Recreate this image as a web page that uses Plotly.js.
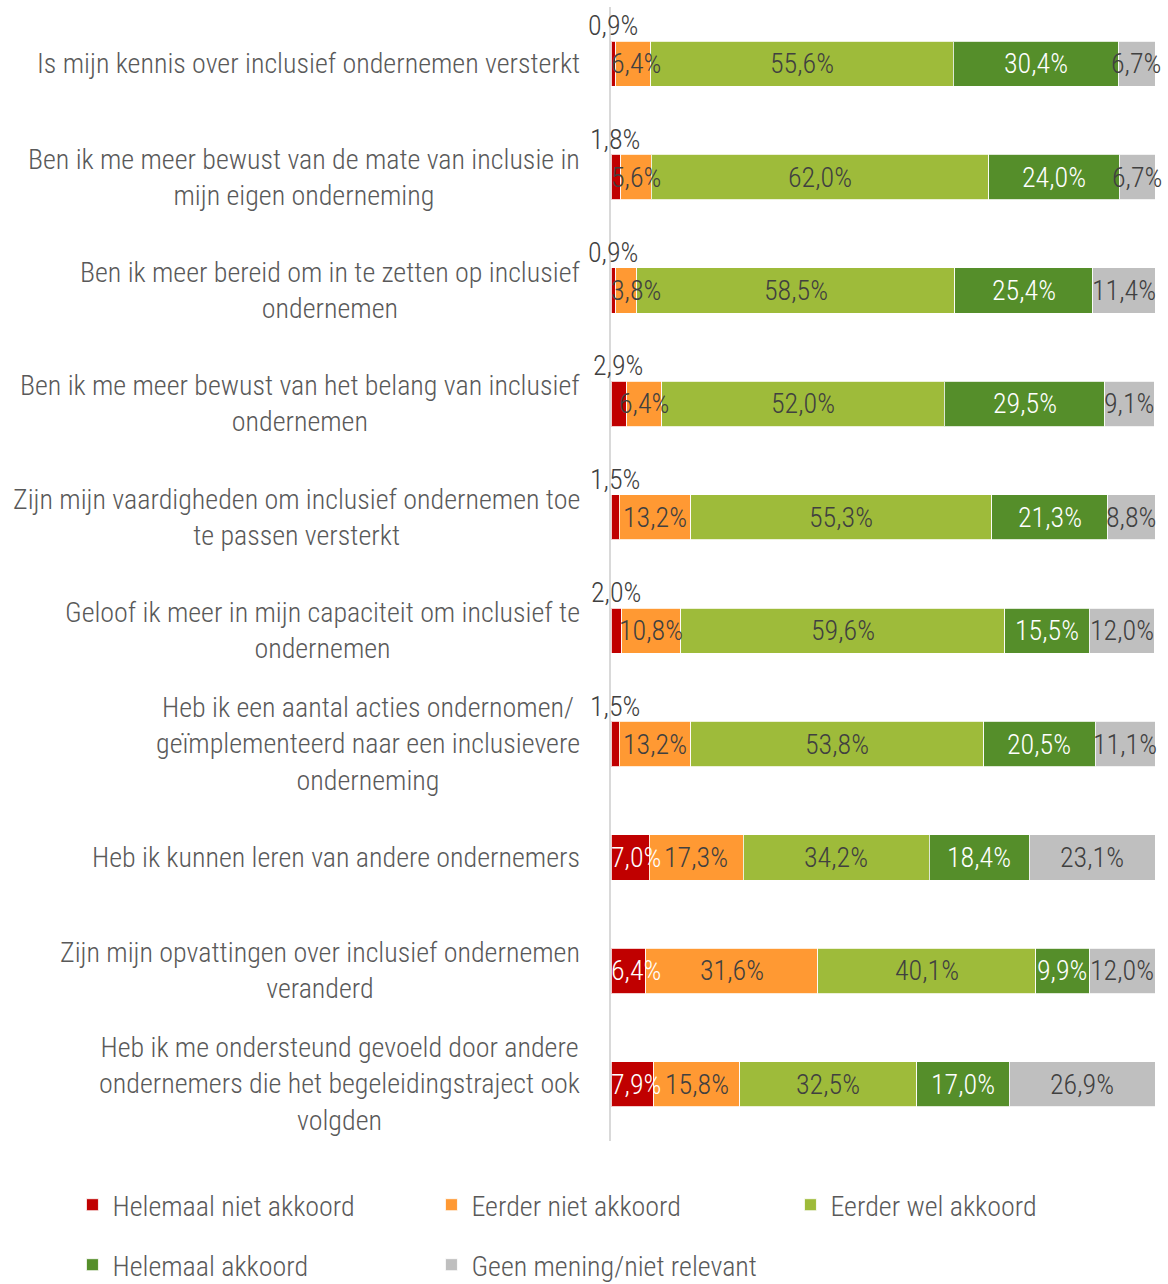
<!DOCTYPE html>
<html>
<head>
<meta charset="utf-8">
<script src="https://cdn.plot.ly/plotly-3.0.1.min.js"></script>
<style>html,body{margin:0;padding:0;background:#fff;}#chart{width:1168px;height:1284px;}</style>
</head>
<body>
<div id="chart"></div>
<script>
const categories = [
  "Is mijn kennis over inclusief ondernemen versterkt",
  "Ben ik me meer bewust van de mate van inclusie in<br>mijn eigen onderneming",
  "Ben ik meer bereid om in te zetten op inclusief<br>ondernemen",
  "Ben ik me meer bewust van het belang van inclusief<br>ondernemen",
  "Zijn mijn vaardigheden om inclusief ondernemen toe<br>te passen versterkt",
  "Geloof ik meer in mijn capaciteit om inclusief te<br>ondernemen",
  "Heb ik een aantal acties ondernomen/<br>geïmplementeerd naar een inclusievere<br>onderneming",
  "Heb ik kunnen leren van andere ondernemers",
  "Zijn mijn opvattingen over inclusief ondernemen<br>veranderd",
  "Heb ik me ondersteund gevoeld door andere<br>ondernemers die het begeleidingstraject ook<br>volgden"
];
const seriesNames = ["Helemaal niet akkoord","Eerder niet akkoord","Eerder wel akkoord","Helemaal akkoord","Geen mening/niet relevant"];
const helemaalNiet = [0.9, 1.8, 0.9, 2.9, 1.5, 2.0, 1.5, 7.0, 6.4, 7.9];
const eerderNiet   = [6.4, 5.6, 3.8, 6.4, 13.2, 10.8, 13.2, 17.3, 31.6, 15.8];
const eerderWel    = [55.6, 62.0, 58.5, 52.0, 55.3, 59.6, 53.8, 34.2, 40.1, 32.5];
const helemaal     = [30.4, 24.0, 25.4, 29.5, 21.3, 15.5, 20.5, 18.4, 9.9, 17.0];
const geenMening   = [6.7, 6.7, 11.4, 9.1, 8.8, 12.0, 11.1, 23.1, 12.0, 26.9];

const colors = ["#C00000","#FF9933","#9EBB3A","#558E2A","#BFBFBF"];
const labelColors = ["#FFFFFF","#404040","#404040","#FFFFFF","#404040"];
const allSeries = [helemaalNiet, eerderNiet, eerderWel, helemaal, geenMening];

const FONT = "'Roboto Condensed', 'DejaVu Sans', sans-serif";
const FS = 28;
const mkFont = (color) => ({family: FONT, size: FS, color: color, weight: 300});

const traces = allSeries.map((vals, i) => ({
  type: 'bar',
  orientation: 'h',
  name: seriesNames[i],
  x: vals,
  y: categories,
  marker: {color: colors[i], line: {color: 'rgba(255,255,255,0.8)', width: 1}},
  hoverinfo: 'none',
  legend: i < 3 ? 'legend' : 'legend2'
}));

const fmt = v => v.toFixed(1).replace('.', ',') + '%';

const annotations = [];
// category labels
categories.forEach(c => {
  annotations.push({
    xref: 'paper', yref: 'y', x: 0, y: c, xanchor: 'right', yanchor: 'middle',
    xshift: -29, text: c, showarrow: false, align: 'center',
    font: mkFont('#595959')
  });
});
// data labels (kept inside the plot's left edge like the original)
const MIN_CENTER = 4.6;
categories.forEach((c, r) => {
  let cum = 0;
  allSeries.forEach((vals, i) => {
    const v = vals[r];
    let mid = cum + v / 2;
    cum += v;
    const small = (i === 0 && v < 5);
    if (!small) mid = Math.max(mid, MIN_CENTER);
    annotations.push({
      xref: 'x', yref: 'y', x: mid, y: c, xanchor: 'center', yanchor: 'middle',
      yshift: small ? 38 : 0,
      text: fmt(v), showarrow: false,
      font: mkFont(small ? '#404040' : labelColors[i])
    });
  });
});

const legendBase = {orientation: 'h', x: -0.99, xanchor: 'left', yanchor: 'top', entrywidth: 314, entrywidthmode: 'pixels',
  font: mkFont('#595959'), traceorder: 'normal', itemclick: false, itemdoubleclick: false, bgcolor: 'rgba(0,0,0,0)'};
const layout = {
  width: 1168, height: 1284,
  margin: {l: 611, r: 13, t: 7, b: 143, autoexpand: false},
  paper_bgcolor: '#FFFFFF', plot_bgcolor: '#FFFFFF',
  barmode: 'stack', bargap: 0.6,
  font: mkFont('#595959'),
  xaxis: {range: [0, 100], showgrid: false, zeroline: false, showticklabels: false, showline: false, fixedrange: true},
  yaxis: {autorange: 'reversed', showticklabels: false, showline: true, linecolor: '#D9D9D9', linewidth: 2, ticks: '', showgrid: false, zeroline: false},
  showlegend: true,
  legend: Object.assign({}, legendBase, {y: -0.0344}),
  legend2: Object.assign({}, legendBase, {y: -0.0873}),
  annotations: annotations
};

Plotly.newPlot('chart', traces, layout, {staticPlot: true, displayModeBar: false});
</script>
</body>
</html>
